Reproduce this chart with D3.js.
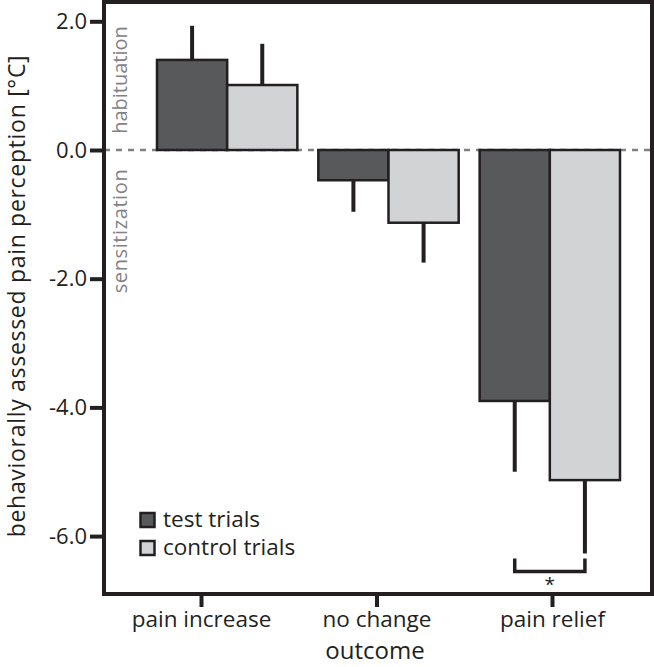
<!DOCTYPE html>
<html>
<head>
<meta charset="utf-8">
<script src="https://cdn.jsdelivr.net/npm/d3@7"></script>
<style>
  html, body { margin: 0; padding: 0; background: #fff; }
  svg { display: block; }
  text { font-family: "Open Sans", "Noto Sans", sans-serif; }
</style>
</head>
<body>
<svg id="chart" width="654" height="667"></svg>
<script>
// ---- data ----
const categories = ["pain increase", "no change", "pain relief"];
const seriesNames = ["test trials", "control trials"];
const testMeans = [1.40, -0.47, -3.90];
const controlMeans = [1.01, -1.13, -5.13];
const testErrors = [0.53, 0.49, 1.10];
const controlErrors = [0.64, 0.62, 1.14];
const yTickValues = [2, 0, -2, -4, -6];
const regionLabels = ["habituation", "sensitization"];
const sigCategory = "pain relief";
const sigLevel = -6.55;
const sigLabel = "*";
const xTitle = "outcome";
const yTitle = "behaviorally assessed pain perception [°C]";

// ---- styles ----
const ink = "#231f20";
const fills = ["#58595b", "#d1d3d4"];
const grey = "#808285";

const svg = d3.select("#chart");
const pLeft = 104, pRight = 652, pTop = 2, pBottom = 594;

const y = d3.scaleLinear().domain([-6.9, 2.3]).range([pBottom, pTop]);
const xBand = d3.scaleBand().domain(categories).range([157, 620]).paddingInner(0.13).paddingOuter(0);
const xSub = d3.scaleBand().domain(seriesNames).range([0, xBand.bandwidth()]);
const xAxisScale = d3.scalePoint().domain(categories).range([201, 552]);

const rows = [];
categories.forEach((c, i) => {
  rows.push({cat: c, s: seriesNames[0], v: testMeans[i], e: testErrors[i], fill: fills[0]});
  rows.push({cat: c, s: seriesNames[1], v: controlMeans[i], e: controlErrors[i], fill: fills[1]});
});

// zero dashed line
svg.append("line")
  .attr("x1", pLeft).attr("x2", pRight)
  .attr("y1", y(0)).attr("y2", y(0))
  .attr("stroke", grey).attr("stroke-width", 2.5)
  .attr("stroke-dasharray", "6,6");

// error bars (drawn before bars)
svg.append("g").selectAll("line").data(rows).join("line")
  .attr("x1", d => xBand(d.cat) + xSub(d.s) + xSub.bandwidth() / 2)
  .attr("x2", d => xBand(d.cat) + xSub(d.s) + xSub.bandwidth() / 2)
  .attr("y1", d => y(d.v))
  .attr("y2", d => y(d.v + (d.v >= 0 ? d.e : -d.e)))
  .attr("stroke", ink).attr("stroke-width", 4);

// bars
svg.append("g").selectAll("rect").data(rows).join("rect")
  .attr("x", d => xBand(d.cat) + xSub(d.s))
  .attr("width", xSub.bandwidth())
  .attr("y", d => y(Math.max(0, d.v)))
  .attr("height", d => Math.abs(y(d.v) - y(0)))
  .attr("fill", d => d.fill)
  .attr("stroke", ink).attr("stroke-width", 2.5);

// region labels
svg.append("text")
  .attr("transform", `translate(127, 80) rotate(-90)`)
  .attr("text-anchor", "middle")
  .attr("font-size", 20).attr("fill", grey)
  .text(regionLabels[0]);
svg.append("text")
  .attr("transform", `translate(127, 231) rotate(-90)`)
  .attr("text-anchor", "middle")
  .attr("font-size", 20).attr("fill", grey)
  .attr("letter-spacing", 0.6)
  .text(regionLabels[1]);

// significance bracket
const sx1 = xBand(sigCategory) + xSub(seriesNames[0]) + xSub.bandwidth() / 2;
const sx2 = xBand(sigCategory) + xSub(seriesNames[1]) + xSub.bandwidth() / 2;
const sTop = y(sigLevel) - 13;
svg.append("path")
  .attr("d", `M${sx1},${sTop}V${y(sigLevel)}H${sx2}V${sTop}`)
  .attr("fill", "none").attr("stroke", ink).attr("stroke-width", 3.5);
svg.append("text")
  .attr("x", (sx1 + sx2) / 2).attr("y", y(sigLevel) + 20)
  .attr("text-anchor", "middle").attr("font-size", 19).attr("fill", ink)
  .text(sigLabel);

// frame
svg.append("rect")
  .attr("x", pLeft).attr("y", pTop)
  .attr("width", pRight - pLeft).attr("height", pBottom - pTop)
  .attr("fill", "none").attr("stroke", ink).attr("stroke-width", 4);

// y axis
const yAxis = d3.axisLeft(y).tickValues(yTickValues).tickSize(14).tickPadding(3)
  .tickFormat(d => d.toFixed(1));
const gy = svg.append("g").attr("transform", `translate(${pLeft},0)`).call(yAxis);
gy.select(".domain").remove();
gy.selectAll(".tick line").attr("stroke", ink).attr("stroke-width", 4);
gy.selectAll(".tick text").attr("font-size", 22).attr("fill", ink)
  .attr("font-family", "'Open Sans', sans-serif");

// x axis
const xAxis = d3.axisBottom(xAxisScale).tickSize(13).tickPadding(4);
const gx = svg.append("g").attr("transform", `translate(0,${pBottom})`).call(xAxis);
gx.select(".domain").remove();
gx.selectAll(".tick line").attr("stroke", ink).attr("stroke-width", 4);
gx.selectAll(".tick text").attr("font-size", 22.5).attr("fill", ink)
  .attr("font-family", "'Open Sans', sans-serif");

// titles
svg.append("text")
  .attr("x", 375).attr("y", 659)
  .attr("text-anchor", "middle").attr("font-size", 24).attr("fill", ink)
  .text(xTitle);
svg.append("text")
  .attr("transform", `translate(25, 296) rotate(-90)`)
  .attr("text-anchor", "middle").attr("font-size", 23).attr("fill", ink)
  .attr("letter-spacing", 0.7)
  .text(yTitle);

// legend
const lg = svg.append("g");
seriesNames.forEach((s, i) => {
  lg.append("rect")
    .attr("x", 140.5).attr("y", 513 + i * 28)
    .attr("width", 14).attr("height", 14)
    .attr("fill", fills[i]).attr("stroke", ink).attr("stroke-width", 2.5);
  lg.append("text")
    .attr("x", 163).attr("y", 527 + i * 28)
    .attr("font-size", 22.5).attr("fill", ink)
    .text(s);
});
</script>
</body>
</html>
